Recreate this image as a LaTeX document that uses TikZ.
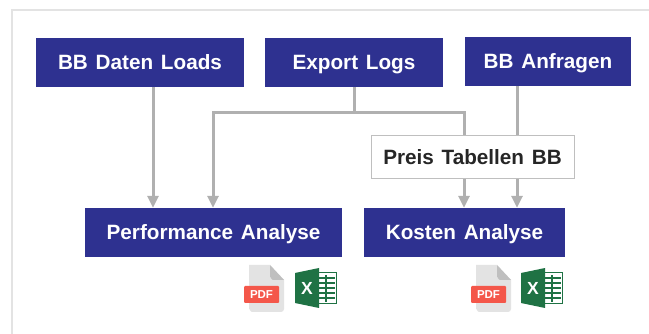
\documentclass[tikz,border=0pt]{standalone}
\usepackage{fontspec}
\setmainfont[WordSpace=1.35]{Liberation Sans}
\usetikzlibrary{arrows.meta}
\definecolor{navy}{HTML}{2E3190}
\definecolor{conn}{HTML}{B0B0B0}
\definecolor{xlgreen}{HTML}{1F7244}
\definecolor{pdfred}{HTML}{F4574A}
\tikzset{
  x=1pt,y=-1pt,
  box/.style={fill=navy,draw=none,inner sep=0pt,text=white,text height=14.7pt,text depth=0pt,font=\bfseries\fontsize{20.7}{24}\selectfont},
  pricebox/.style={fill=white,draw=black!25,line width=1pt,inner sep=0pt,text=black!85,text height=14.7pt,text depth=0pt,font=\bfseries\fontsize{20.7}{24}\selectfont},
  link/.style={draw=conn,line width=3pt},
  arrowlink/.style={link,-{Triangle[length=12pt,width=11pt,fill=conn]}},
  pdficon/.pic={
    \fill[black!11] (5,0) -- (26,0) -- (40,15) -- (40,44) to[out=-90,in=0] (37,47) -- (8,47) to[out=180,in=90] (5,44) -- cycle;
    \fill[black!25] (26,0) -- (40,15) -- (29,15) to[out=180,in=90] (26,12) -- cycle;
    \fill[pdfred,rounded corners=1pt] (0,21) rectangle (35,38);
    \node[text=white,font=\bfseries\fontsize{11.5}{12}\selectfont,inner sep=0pt] at (17.5,29.5) {PDF};
  },
  xlsicon/.pic={
    \draw[xlgreen,line width=1pt,fill=white] (18,4.5) rectangle (41.5,36);
    \foreach \yy in {10,15,20,25,30} \draw[xlgreen,line width=1.8pt] (24,\yy) -- (40,\yy);
    \draw[xlgreen,line width=1.2pt] (31,7) -- (31,34);
    \fill[xlgreen] (0,5) -- (24,0) -- (24,40) -- (0,35) -- cycle;
    \node[text=white,font=\bfseries\fontsize{17.5}{20}\selectfont,inner sep=0pt] at (12,20.5) {X};
  }
}
\begin{document}
\begin{tikzpicture}
\useasboundingbox (0,0) rectangle (649,334);
\fill[white] (0,0) rectangle (649,334);
\draw[black!11,line width=1.4pt] (649,10) -- (12,10) -- (12,334);

\node[box,minimum width=208pt,minimum height=49pt] (daten) at (140,62.5) {BB Daten Loads};
\node[box,minimum width=178pt,minimum height=49pt] (export) at (354,62.5) {Export Logs};
\node[box,minimum width=166pt,minimum height=49pt] (anfragen) at (548,61.5) {BB Anfragen};
\node[box,minimum width=257pt,minimum height=49pt] (perf) at (213.5,232.5) {Performance Analyse};
\node[box,minimum width=201pt,minimum height=49pt] (kosten) at (464.5,232.5) {Kosten Analyse};
\node[pricebox,minimum width=203pt,minimum height=43pt] (preis) at (472.5,157.5) {Preis Tabellen BB};

\coordinate (split) at (354,113);
\coordinate (left) at (213,113);
\coordinate (right) at (464,113);
\coordinate (qin) at (517,86);
\coordinate (din) at (153,86);

\draw[arrowlink] (daten.south -| din) -- (perf.north -| din);
\draw[link] (export.south) -- (split);
\draw[arrowlink] (split) -- (left) -- (perf.north -| left);
\draw[link] (split) -- (right) -- (preis.north -| right);
\draw[link] (anfragen.south -| qin) -- (preis.north -| qin);
\draw[arrowlink] (preis.south -| right) -- (kosten.north -| right);
\draw[arrowlink] (preis.south -| qin) -- (kosten.north -| qin);

\pic at (244,265) {pdficon};
\pic at (295,268) {xlsicon};
\pic at (471,265) {pdficon};
\pic at (521,268) {xlsicon};
\end{tikzpicture}
\end{document}
